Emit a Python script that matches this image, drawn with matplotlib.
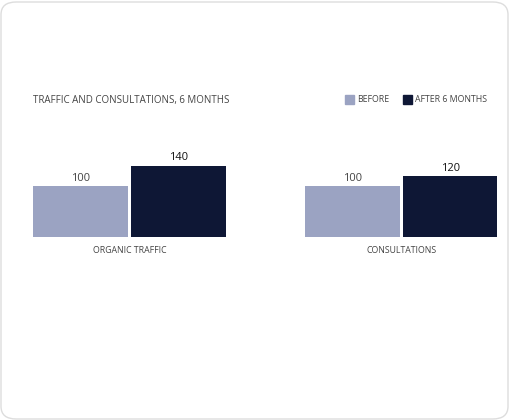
import matplotlib.pyplot as plt
from matplotlib.patches import FancyBboxPatch

categories = ["ORGANIC TRAFFIC", "CONSULTATIONS"]
before = [100, 100]
after = [140, 120]
series_names = ["BEFORE", "AFTER 6 MONTHS"]
title = "TRAFFIC AND CONSULTATIONS, 6 MONTHS"

c_before = "#9ba3c2"
c_after = "#0e1735"
txt = "#444444"

plt.rcParams['font.family'] = ['Open Sans', 'DejaVu Sans']

W, H = 510, 420
fig = plt.figure(figsize=(W / 100, H / 100), dpi=100)

# card background, kept behind the axes
card = FancyBboxPatch((1 / W, 1 / H), (W - 3) / W, (H - 3) / H,
                      boxstyle="round,pad=0,rounding_size=0.03",
                      transform=fig.transFigure, facecolor="white",
                      edgecolor="#dddddd", linewidth=1, zorder=-10)
fig.patches.append(card)

# axes: x in pixels 33..497, baseline at y=237, 140 units -> 71 px
left, right, base, top = 33, 497, 237, 166
ax = fig.add_axes([left / W, (H - base) / H, (right - left) / W, (base - top) / H])
ax.set_xlim(left, right)
ax.set_ylim(0, 140)
ax.axis("off")
ax.patch.set_alpha(0)

group_starts = [33, 305]
bw = 95
gap = 3
for i, cat in enumerate(categories):
    x0 = group_starts[i]
    xb = x0 + bw / 2
    xa = x0 + bw + gap + bw / 2
    ax.bar(xb, before[i], width=bw, color=c_before)
    ax.bar(xa, after[i], width=bw, color=c_after)
    ax.text(xb, before[i] + 5, f"{before[i]}", ha="center", va="bottom",
            fontsize=8, color=txt, clip_on=False)
    ax.text(xa, after[i] + 5, f"{after[i]}", ha="center", va="bottom",
            fontsize=8, color="#111111", clip_on=False)
    ax.text(x0 + bw + gap / 2, -26, cat, ha="center", va="center",
            fontsize=6.3, color=txt, clip_on=False)

fig.text(33 / W, 1 - 100 / H, title, ha="left", va="center",
         fontsize=7, color=txt)

# legend
lx = [345, 403]
for x, name, c in zip(lx, series_names, [c_before, c_after]):
    fig.patches.append(plt.Rectangle((x / W, 1 - 104 / H), 9 / W, 9 / H,
                                     transform=fig.transFigure, color=c))
    fig.text((x + 12) / W, 1 - 100 / H, name, ha="left", va="center",
             fontsize=6.3, color=txt)

fig.savefig("out.png", dpi=100)
